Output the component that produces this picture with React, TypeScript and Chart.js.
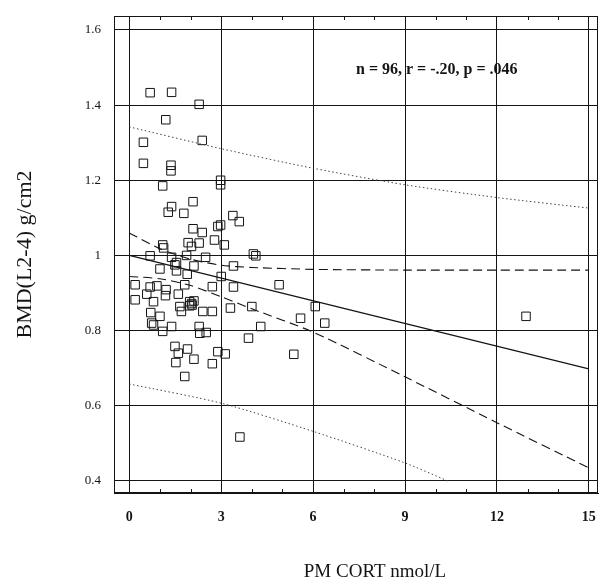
import { useEffect, useRef } from "react";
import { Chart, registerables } from "chart.js";

Chart.register(...registerables);

// Scatter data: PM cortisol (nmol/L) vs BMD L2-4 (g/cm2)
const cortX = [
  0.68, 1.38, 2.28, 1.19, 2.38, 0.46, 0.46, 1.36, 1.36, 2.98,
  2.98, 1.09, 2.08, 1.38, 1.27, 1.78, 3.38, 3.59, 2.08, 2.38,
  2.89, 2.98, 2.78, 3.10, 1.09, 1.12, 1.92, 2.03, 2.28, 4.05,
  4.13, 0.68, 1.38, 1.54, 1.87, 2.49, 2.11, 1.00, 3.40, 1.89,
  3.00, 0.19, 0.68, 0.90, 1.20, 1.81, 2.71, 3.40, 4.89, 0.19,
  0.57, 0.79, 1.18, 1.60, 1.97, 2.11, 2.03, 1.97, 1.65, 1.70,
  2.40, 2.71, 3.30, 4.00, 0.70, 1.00, 0.73, 0.79, 1.38, 1.09,
  2.28, 2.30, 2.51, 4.29, 3.89, 1.49, 1.60, 1.52, 1.90, 2.11,
  2.89, 3.13, 2.71, 1.81, 5.37, 6.07, 5.59, 6.38, 12.95, 3.61,
  1.49, 1.54, 2.05,
];
const bmdY = [
  1.433, 1.434, 1.402, 1.361, 1.306, 1.301, 1.245, 1.240, 1.225, 1.200,
  1.188, 1.185, 1.143, 1.130, 1.115, 1.112, 1.106, 1.090, 1.071, 1.061,
  1.077, 1.081, 1.041, 1.028, 1.028, 1.020, 1.034, 1.024, 1.033, 1.004,
  0.999, 0.999, 0.995, 0.981, 1.000, 0.995, 0.972, 0.964, 0.972, 0.950,
  0.944, 0.922, 0.916, 0.919, 0.909, 0.922, 0.917, 0.916, 0.922, 0.882,
  0.897, 0.877, 0.893, 0.897, 0.877, 0.879, 0.872, 0.866, 0.864, 0.851,
  0.851, 0.851, 0.860, 0.864, 0.848, 0.838, 0.820, 0.815, 0.811, 0.798,
  0.811, 0.793, 0.795, 0.811, 0.780, 0.758, 0.740, 0.715, 0.751, 0.724,
  0.744, 0.738, 0.712, 0.678, 0.737, 0.864, 0.833, 0.820, 0.838, 0.517,
  0.975, 0.959, 0.868,
];

// Regression line
const fitX = [0, 15];
const fitY = [1.0, 0.698];

// 95% confidence band (dashed)
const confX = [0, 1, 2, 3, 4, 6, 9, 12, 15];
const confUpper = [1.06, 1.018, 0.99, 0.974, 0.968, 0.963, 0.961, 0.961, 0.961];
const confLower = [0.944, 0.938, 0.92, 0.89, 0.858, 0.796, 0.677, 0.555, 0.435];

// 95% prediction band (dotted)
const predUpperX = [0, 3, 6, 9, 12, 15];
const predUpper = [1.342, 1.284, 1.232, 1.188, 1.154, 1.126];
const predLowerX = [0, 3, 6, 9, 10.4];
const predLower = [0.658, 0.607, 0.532, 0.448, 0.4];

const xTicks = [0, 3, 6, 9, 12, 15];
const xMinorTicks = [1, 2, 4, 5, 7, 8, 10, 11, 13, 14];
const yTicks = [0.4, 0.6, 0.8, 1.0, 1.2, 1.4, 1.6];

const statText = "n = 96, r = -.20, p = .046";
const statPos = [7.4, 1.494];
const xTitle = "PM CORT nmol/L";
const yTitle = "BMD(L2-4) g/cm2";

const INK = "#141414";
const SERIF = '"Liberation Serif", "DejaVu Serif", serif';

const toPts = (xs: number[], ys: number[]) => xs.map((x, i) => ({ x, y: ys[i] }));

const decorPlugin = {
  id: "decor",
  afterDraw(chart: any) {
    const { ctx, chartArea: a, scales } = chart;
    const xs = scales.x;
    const ys = scales.y;
    ctx.save();
    ctx.strokeStyle = INK;
    ctx.lineWidth = 1;
    ctx.strokeRect(a.left + 0.5, a.top + 0.5, a.right - a.left - 1, a.bottom - a.top - 1);
    ctx.beginPath();
    for (const v of xMinorTicks) {
      const px = Math.round(xs.getPixelForValue(v)) + 0.5;
      ctx.moveTo(px, a.bottom);
      ctx.lineTo(px, a.bottom - 4);
      ctx.moveTo(px, a.top);
      ctx.lineTo(px, a.top + 4);
    }
    ctx.stroke();

    ctx.fillStyle = INK;
    ctx.font = `bold 16px ${SERIF}`;
    ctx.textAlign = "left";
    ctx.textBaseline = "middle";
    ctx.fillText(statText, xs.getPixelForValue(statPos[0]), ys.getPixelForValue(statPos[1]));

    ctx.font = `19px ${SERIF}`;
    ctx.textAlign = "center";
    ctx.fillText(xTitle, 375, 572);
    ctx.font = `22px ${SERIF}`;
    ctx.translate(25, (a.top + a.bottom) / 2);
    ctx.rotate(-Math.PI / 2);
    ctx.fillText(yTitle, 0, 0);
    ctx.restore();
  },
};

export default function App() {
  const ref = useRef<HTMLCanvasElement | null>(null);

  useEffect(() => {
    if (!ref.current) return;
    const lineDs = (label: string, data: any[], dash: number[], color: string, width = 1) => ({
      type: "line" as const,
      label,
      data,
      showLine: true,
      borderColor: color,
      borderWidth: width,
      borderDash: dash,
      pointRadius: 0,
      fill: false,
      tension: 0.25,
    });
    const chart = new Chart(ref.current, {
      type: "scatter",
      data: {
        datasets: [
          lineDs("Fit", toPts(fitX, fitY), [], INK, 1.2),
          lineDs("Conf upper", toPts(confX, confUpper), [9, 5], INK, 1.1),
          lineDs("Conf lower", toPts(confX, confLower), [9, 5], INK, 1.1),
          lineDs("Pred upper", toPts(predUpperX, predUpper), [1.5, 2.5], "#444", 1),
          lineDs("Pred lower", toPts(predLowerX, predLower), [1.5, 2.5], "#444", 1),
          {
            type: "scatter" as const,
            label: "BMD",
            data: toPts(cortX, bmdY),
            pointStyle: "rect",
            pointRadius: 6,
            pointBorderWidth: 1,
            pointBorderColor: INK,
            pointBackgroundColor: "rgba(0,0,0,0)",
            borderColor: INK,
            backgroundColor: "rgba(0,0,0,0)",
          },
        ] as any,
      },
      options: {
        responsive: false,
        animation: false,
        devicePixelRatio: 1,
        layout: { padding: { top: 16, right: 3, left: 0, bottom: 0 } },
        plugins: { legend: { display: false }, tooltip: { enabled: false } },
        scales: {
          x: {
            type: "linear",
            min: -0.5,
            max: 15.3,
            afterBuildTicks: (s: any) => {
              s.ticks = xTicks.map((v) => ({ value: v }));
            },
            afterFit: (s: any) => {
              s.height = 90;
              s.paddingLeft = 0;
              s.paddingRight = 0;
            },
            ticks: {
              color: INK,
              font: { family: SERIF, size: 14, weight: "bold" },
              padding: 16,
              maxRotation: 0,
              autoSkip: false,
              callback: (v: any) => String(v),
            },
            grid: { color: INK, lineWidth: 1, drawTicks: false },
            border: { display: true, color: INK },
          },
          y: {
            type: "linear",
            min: 0.368,
            max: 1.637,
            afterBuildTicks: (s: any) => {
              s.ticks = yTicks.map((v) => ({ value: v }));
            },
            afterFit: (s: any) => {
              s.width = 114;
              s.paddingTop = 0;
              s.paddingBottom = 0;
            },
            ticks: {
              color: INK,
              font: { family: SERIF, size: 13 },
              padding: 13,
              autoSkip: false,
              callback: (v: any) => (Math.abs(v - 1) < 1e-6 ? "1" : Number(v).toFixed(1)),
            },
            grid: { color: INK, lineWidth: 1, drawTicks: false },
            border: { display: true, color: INK },
          },
        },
      } as any,
      plugins: [decorPlugin],
    });
    return () => chart.destroy();
  }, []);

  return (
    <div style={{ position: "fixed", left: 0, top: 0, width: 605, height: 583, background: "#fff" }}>
      <canvas ref={ref} width={605} height={583} />
    </div>
  );
}
